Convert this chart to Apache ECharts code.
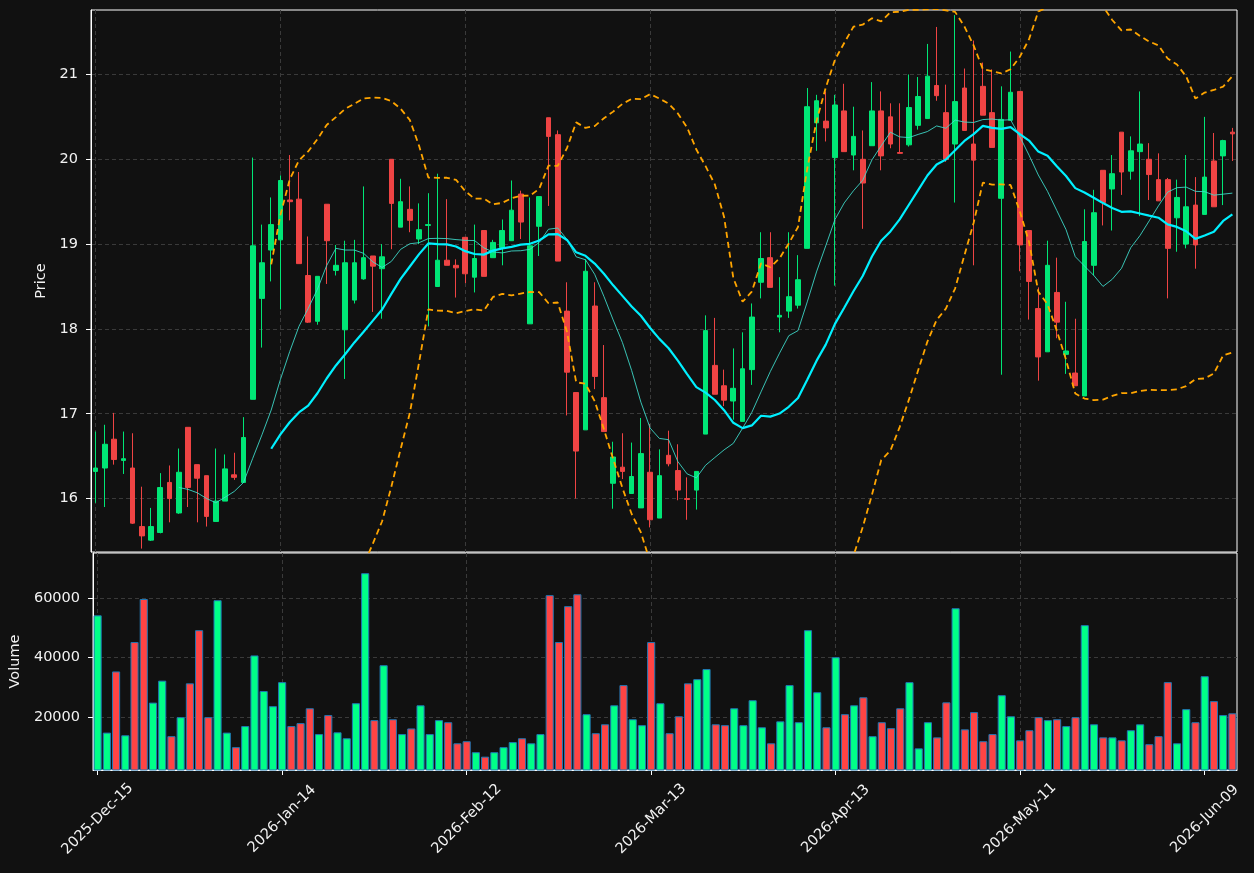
<!DOCTYPE html>
<html>
<head>
<meta charset="utf-8">
<script src="https://cdn.jsdelivr.net/npm/echarts@6/dist/echarts.min.js"></script>
<style>
  html, body { margin: 0; padding: 0; background: #111111; }
  #chart { width: 1254px; height: 873px; }
</style>
</head>
<body>
<div id="chart"></div>
<script>
// trading calendar (NYSE days, holidays skipped)
var startDate = '2025-12-15';
var barCount = 124;
var holidays = ['2025-12-25', '2026-01-01', '2026-01-19', '2026-02-16', '2026-04-03', '2026-05-25'];
var monthNames = ['Jan', 'Feb', 'Mar', 'Apr', 'May', 'Jun', 'Jul', 'Aug', 'Sep', 'Oct', 'Nov', 'Dec'];

var openPrice = [
  16.32, 16.36, 16.70, 16.45, 16.36, 15.67, 15.51, 15.60, 16.19, 15.83,
  16.84, 16.40, 16.27, 15.73, 15.97, 16.28, 16.19, 17.17, 18.36, 18.93,
  19.05, 19.52, 19.53, 18.63, 18.09, 19.47, 18.69, 17.99, 18.34, 18.59,
  18.86, 18.71, 20.00, 19.20, 19.41, 19.06, 19.22, 18.50, 18.81, 18.75,
  19.08, 18.61, 19.16, 18.84, 18.96, 19.04, 19.59, 18.06, 19.21, 20.49,
  20.29, 18.21, 17.25, 16.81, 18.27, 17.19, 16.18, 16.37, 16.06, 15.89,
  16.31, 15.77, 16.51, 16.33, 16.00, 16.10, 16.76, 17.57, 17.33, 17.15,
  16.91, 17.52, 18.55, 18.84, 18.14, 18.21, 18.28, 18.95, 20.43, 20.45,
  20.02, 20.57, 20.05, 20.00, 20.16, 20.57, 20.50, 20.08, 20.17, 20.40,
  20.48, 20.87, 20.55, 20.18, 20.84, 20.18, 20.86, 20.55, 19.54, 20.46,
  20.80, 19.16, 18.24, 17.73, 18.43, 17.70, 17.48, 17.21, 18.75, 19.87,
  19.65, 20.32, 19.86, 20.09, 20.00, 19.76, 19.76, 19.31, 19.00, 19.46,
  19.35, 19.98, 20.04, 20.32
];
var closePrice = [
  16.36, 16.64, 16.46, 16.47, 15.71, 15.56, 15.67, 16.13, 16.00, 16.31,
  16.13, 16.24, 15.79, 15.97, 16.35, 16.25, 16.72, 18.98, 18.78, 19.23,
  19.75, 19.50, 18.77, 18.08, 18.62, 19.04, 18.75, 18.78, 18.78, 18.84,
  18.74, 18.85, 19.48, 19.50, 19.28, 19.17, 19.23, 18.81, 18.75, 18.72,
  18.65, 18.83, 18.62, 19.02, 19.16, 19.40, 19.26, 18.98, 19.56, 20.27,
  18.80, 17.49, 16.56, 18.68, 17.44, 16.79, 16.49, 16.32, 16.26, 16.53,
  15.75, 16.27, 16.41, 16.10, 15.99, 16.32, 17.98, 17.23, 17.16, 17.30,
  17.53, 18.14, 18.83, 18.49, 18.16, 18.38, 18.58, 20.62, 20.69, 20.37,
  20.64, 20.09, 20.27, 19.72, 20.57, 20.04, 20.18, 20.07, 20.61, 20.74,
  20.98, 20.75, 20.00, 20.68, 20.34, 19.99, 20.52, 20.14, 20.47, 20.79,
  18.99, 18.56, 17.67, 18.75, 18.08, 17.74, 17.33, 19.03, 19.37, 19.49,
  19.83, 19.85, 20.10, 20.18, 19.82, 19.51, 18.95, 19.55, 19.44, 18.99,
  19.79, 19.44, 20.22, 20.30
];
var highPrice = [
  16.79, 16.87, 17.01, 16.79, 16.77, 16.14, 15.89, 16.30, 16.39, 16.59,
  16.84, 16.40, 16.27, 16.59, 16.52, 16.54, 16.96, 20.02, 19.23, 19.55,
  19.81, 20.05, 19.85, 19.09, 18.62, 19.47, 18.99, 19.04, 19.05, 19.68,
  18.86, 19.00, 20.00, 19.77, 19.68, 19.48, 19.60, 19.83, 19.53, 18.82,
  19.08, 19.23, 19.16, 19.05, 19.29, 19.75, 19.63, 19.55, 19.56, 20.49,
  20.34, 18.55, 17.25, 18.82, 18.55, 17.81, 16.67, 16.77, 16.66, 16.95,
  16.88, 16.58, 16.80, 16.64, 16.25, 16.32, 18.16, 18.13, 17.52, 17.77,
  17.96, 18.30, 19.14, 19.14, 18.61, 19.14, 18.87, 20.84, 20.76, 20.80,
  20.76, 20.89, 20.62, 20.34, 20.91, 20.80, 20.66, 20.66, 21.00, 20.97,
  21.36, 21.56, 20.88, 21.70, 21.07, 21.40, 21.14, 21.06, 20.86, 21.27,
  20.80, 19.16, 18.49, 19.04, 18.84, 18.32, 18.12, 19.41, 19.64, 19.87,
  20.05, 20.32, 20.27, 20.80, 20.19, 20.07, 19.78, 19.76, 20.05, 19.79,
  20.50, 20.31, 20.23, 20.37
];
var lowPrice = [
  15.95, 15.90, 16.40, 16.29, 15.70, 15.41, 15.50, 15.59, 15.72, 15.82,
  15.90, 15.72, 15.67, 15.73, 15.97, 16.22, 16.19, 17.17, 17.78, 18.56,
  18.23, 19.28, 18.77, 18.07, 18.05, 18.53, 18.63, 17.41, 18.30, 18.58,
  18.20, 18.12, 18.94, 19.20, 19.14, 19.00, 18.03, 18.50, 18.75, 18.37,
  18.54, 18.43, 18.62, 18.84, 18.75, 19.04, 19.06, 18.06, 18.86, 19.45,
  18.80, 16.98, 16.00, 16.81, 17.29, 16.79, 15.88, 16.23, 16.06, 15.89,
  15.66, 15.77, 16.38, 15.98, 15.75, 15.87, 16.76, 17.23, 17.09, 16.93,
  16.91, 17.34, 18.36, 18.49, 17.96, 18.13, 18.24, 18.95, 20.10, 20.21,
  18.51, 20.09, 19.87, 19.18, 20.16, 19.87, 20.13, 20.07, 20.15, 20.35,
  20.48, 20.69, 19.97, 19.49, 20.34, 18.75, 20.52, 20.14, 17.46, 20.46,
  18.68, 18.11, 17.39, 17.73, 17.89, 17.47, 17.33, 17.21, 18.63, 19.22,
  19.16, 19.58, 19.76, 19.33, 19.52, 19.51, 18.36, 18.91, 18.95, 18.71,
  19.35, 19.44, 19.46, 19.98
];
var volume = [
  54200, 14700, 35300, 13800, 45200, 59700, 24800, 32200, 13500, 19900,
  31300, 49200, 19900, 59300, 14700, 9800, 16900, 40700, 28700, 23600,
  31700, 16900, 17900, 22900, 14200, 20600, 14800, 12800, 24600, 68400,
  18900, 37400, 19200, 14200, 16100, 23900, 14200, 18900, 18200, 11100,
  11800, 8100, 6600, 8100, 9800, 11500, 12800, 11100, 14200, 61000,
  45200, 57300, 61300, 20900, 14500, 17500, 23900, 30700, 19200, 17200,
  45200, 24600, 14500, 20200, 31300, 32700, 36100, 17500, 17200, 22900,
  17200, 25600, 16500, 11100, 18500, 30700, 18200, 49200, 28300, 16500,
  40100, 20900, 23900, 26600, 13500, 18200, 16200, 22900, 31700, 9400,
  18200, 13100, 24900, 56600, 15800, 21600, 11800, 14200, 27300, 20200,
  12100, 15500, 19900, 18900, 19200, 16900, 19900, 50900, 17500, 13100,
  13100, 12100, 15500, 17500, 10800, 13500, 31700, 11100, 22600, 18200,
  33700, 25300, 20600, 21200
];

var upColor = '#00e676', downColor = '#ef4444';
var volUp = '#00ff88', volDown = '#ff4444';

function tradingDays(start, n) {
  var out = [];
  var d = new Date(start + 'T00:00:00Z');
  while (out.length < n) {
    var iso = d.toISOString().slice(0, 10);
    var wd = d.getUTCDay();
    if (wd !== 0 && wd !== 6 && holidays.indexOf(iso) < 0) {
      out.push(d.getUTCFullYear() + '-' + monthNames[d.getUTCMonth()] + '-' + iso.slice(8, 10));
    }
    d.setUTCDate(d.getUTCDate() + 1);
  }
  return out;
}

// rolling mean / bollinger from the closes
function rolling(n, fn) {
  return closePrice.map(function (v, i) {
    if (i < n - 1) return '-';
    return fn(closePrice.slice(i - n + 1, i + 1));
  });
}
function mean(a) { return a.reduce(function (s, v) { return s + v; }, 0) / a.length; }
function std(a) {
  var m = mean(a);
  return Math.sqrt(a.reduce(function (s, v) { return s + (v - m) * (v - m); }, 0) / (a.length - 1));
}

var dates = tradingDays(startDate, barCount);
var ma10 = rolling(10, mean);
var ma20 = rolling(20, mean);
var bbUpper = rolling(20, function (a) { return mean(a) + 2 * std(a); });
var bbLower = rolling(20, function (a) { return mean(a) - 2 * std(a); });
var ohlc = openPrice.map(function (o, i) { return [o, closePrice[i], lowPrice[i], highPrice[i]]; });

var chart = echarts.init(document.getElementById('chart'), null, { renderer: 'canvas' });

var txt = { color: '#f2f2f2', fontSize: 14.5, fontFamily: 'DejaVu Sans' };
var gridLine = { show: true, showMinLine: false, showMaxLine: false, lineStyle: { color: '#3a3a3a', type: [4, 3], width: 1 } };

var option = {
  backgroundColor: '#111111',
  animation: false,
  grid: [
    { left: 91, top: 10, width: 1146, height: 542, show: true, borderColor: '#ffffff', borderWidth: 1, backgroundColor: '#111111' },
    { left: 91, top: 553, width: 1146, height: 217, show: true, borderColor: '#ffffff', borderWidth: 1, backgroundColor: '#111111' }
  ],
  xAxis: [
    {
      type: 'category', gridIndex: 0, data: dates, boundaryGap: true,
      axisLine: { show: false }, axisTick: { show: false }, axisLabel: { show: false },
      splitLine: Object.assign({}, gridLine, { interval: 19, alignWithLabel: true, showMinLine: true })
    },
    {
      type: 'category', gridIndex: 1, data: dates, boundaryGap: true,
      axisLine: { show: true, lineStyle: { color: '#ffffff' } },
      axisTick: { show: true, interval: 19, alignWithLabel: true, length: 5, lineStyle: { color: '#ffffff' } },
      axisLabel: Object.assign({ interval: 19, rotate: 45, margin: 49, align: 'center', verticalAlign: 'middle' }, txt),
      splitLine: Object.assign({}, gridLine, { interval: 19, alignWithLabel: true, showMinLine: true })
    }
  ],
  yAxis: [
    {
      type: 'value', gridIndex: 0, min: 15.37, max: 21.76, splitNumber: 6,
      name: 'Price', nameLocation: 'middle', nameGap: 34, nameTextStyle: txt,
      axisLine: { show: true, lineStyle: { color: '#ffffff' } },
      axisTick: { show: true, length: 5, lineStyle: { color: '#ffffff' } },
      axisLabel: Object.assign({ showMinLabel: false, showMaxLabel: false, margin: 13 }, txt),
      splitLine: gridLine
    },
    {
      type: 'value', gridIndex: 1, min: 2100, max: 75200, splitNumber: 4,
      name: 'Volume', nameLocation: 'middle', nameGap: 65, nameTextStyle: txt,
      axisLine: { show: true, lineStyle: { color: '#ffffff' } },
      axisTick: { show: true, length: 5, lineStyle: { color: '#ffffff' } },
      axisLabel: Object.assign({ showMinLabel: false, showMaxLabel: false, margin: 13, formatter: function (v) { return String(v); } }, txt),
      splitLine: gridLine
    }
  ],
  series: [
    {
      name: 'OHLC', type: 'candlestick', xAxisIndex: 0, yAxisIndex: 0,
      data: ohlc, barWidth: '56%',
      itemStyle: { color: upColor, color0: downColor, borderColor: upColor, borderColor0: downColor, borderWidth: 1 }
    },
    {
      name: 'MA10', type: 'line', xAxisIndex: 0, yAxisIndex: 0, data: ma10,
      showSymbol: false, lineStyle: { color: '#40e0d0', width: 1, opacity: 0.85 }, z: 3
    },
    {
      name: 'MA20', type: 'line', xAxisIndex: 0, yAxisIndex: 0, data: ma20,
      showSymbol: false, lineStyle: { color: '#00f0ff', width: 2.2 }, z: 3
    },
    {
      name: 'BB Upper', type: 'line', xAxisIndex: 0, yAxisIndex: 0, data: bbUpper,
      showSymbol: false, lineStyle: { color: '#ffa500', width: 1.8, type: [6, 4] }, z: 3
    },
    {
      name: 'BB Lower', type: 'line', xAxisIndex: 0, yAxisIndex: 0, data: bbLower,
      showSymbol: false, lineStyle: { color: '#ffa500', width: 1.8, type: [6, 4] }, z: 3
    },
    {
      name: 'Volume', type: 'bar', xAxisIndex: 1, yAxisIndex: 1, data: volume,
      barWidth: '88%',
      itemStyle: {
        borderColor: '#1f77b4', borderWidth: 1,
        color: function (p) { return closePrice[p.dataIndex] >= openPrice[p.dataIndex] ? volUp : volDown; }
      }
    }
  ]
};

chart.setOption(option);
</script>
</body>
</html>
